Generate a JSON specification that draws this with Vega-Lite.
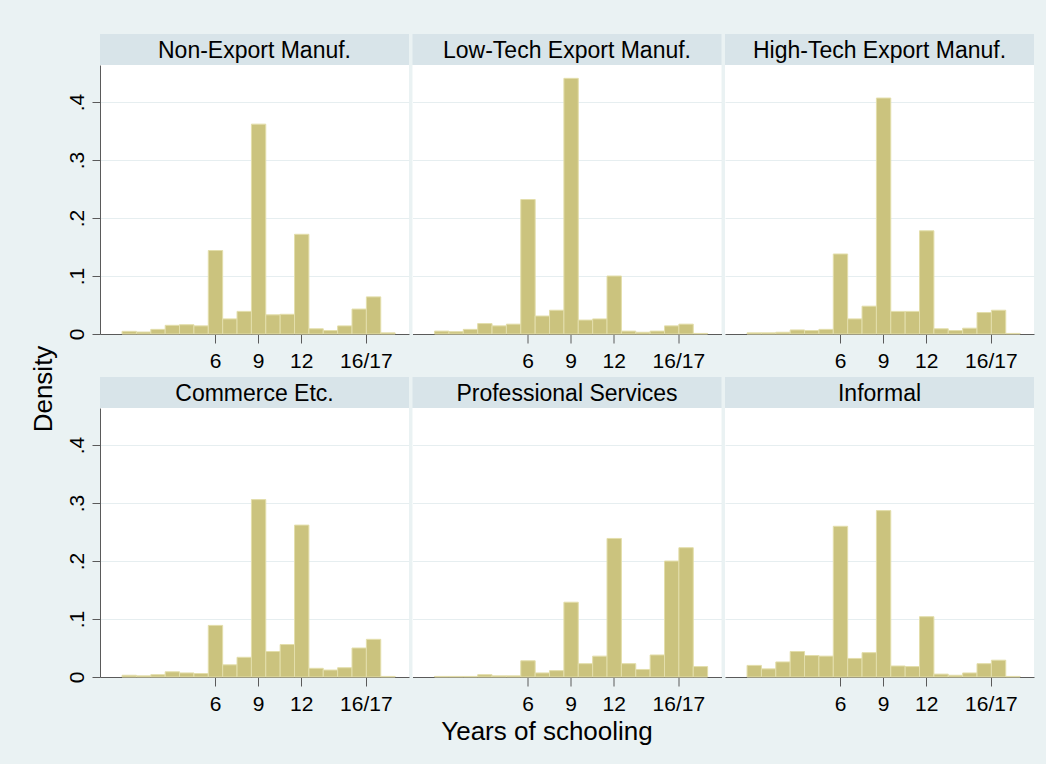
{
  "$schema": "https://vega.github.io/schema/vega-lite/v6.json",
  "background": "#EAF2F3",
  "padding": {"left": 31, "top": 34, "right": 12, "bottom": 20},
  "title": {"text": "Density", "orient": "left", "anchor": "middle", "fontSize": 26, "fontWeight": "normal", "color": "black", "offset": 9},
  "datasets": {
    "panels": [
      {"sector": "Non-Export Manuf."},
      {"sector": "Low-Tech Export Manuf."},
      {"sector": "High-Tech Export Manuf."},
      {"sector": "Commerce Etc."},
      {"sector": "Professional Services"},
      {"sector": "Informal"}
    ],
    "hist": [
      {"sector": "Non-Export Manuf.", "lo": -0.5, "hi": 0.5, "density": 0.0046},
      {"sector": "Non-Export Manuf.", "lo": 0.5, "hi": 1.5, "density": 0.0034},
      {"sector": "Non-Export Manuf.", "lo": 1.5, "hi": 2.5, "density": 0.008},
      {"sector": "Non-Export Manuf.", "lo": 2.5, "hi": 3.5, "density": 0.015},
      {"sector": "Non-Export Manuf.", "lo": 3.5, "hi": 4.5, "density": 0.016},
      {"sector": "Non-Export Manuf.", "lo": 4.5, "hi": 5.5, "density": 0.014},
      {"sector": "Non-Export Manuf.", "lo": 5.5, "hi": 6.5, "density": 0.144},
      {"sector": "Non-Export Manuf.", "lo": 6.5, "hi": 7.5, "density": 0.026},
      {"sector": "Non-Export Manuf.", "lo": 7.5, "hi": 8.5, "density": 0.039},
      {"sector": "Non-Export Manuf.", "lo": 8.5, "hi": 9.5, "density": 0.362},
      {"sector": "Non-Export Manuf.", "lo": 9.5, "hi": 10.5, "density": 0.033},
      {"sector": "Non-Export Manuf.", "lo": 10.5, "hi": 11.5, "density": 0.034},
      {"sector": "Non-Export Manuf.", "lo": 11.5, "hi": 12.5, "density": 0.172},
      {"sector": "Non-Export Manuf.", "lo": 12.5, "hi": 13.5, "density": 0.009},
      {"sector": "Non-Export Manuf.", "lo": 13.5, "hi": 14.5, "density": 0.006},
      {"sector": "Non-Export Manuf.", "lo": 14.5, "hi": 15.5, "density": 0.014},
      {"sector": "Non-Export Manuf.", "lo": 15.5, "hi": 16.5, "density": 0.043},
      {"sector": "Non-Export Manuf.", "lo": 16.5, "hi": 17.5, "density": 0.064},
      {"sector": "Non-Export Manuf.", "lo": 17.5, "hi": 18.5, "density": 0.002},

      {"sector": "Low-Tech Export Manuf.", "lo": -0.5, "hi": 0.5, "density": 0.005},
      {"sector": "Low-Tech Export Manuf.", "lo": 0.5, "hi": 1.5, "density": 0.004},
      {"sector": "Low-Tech Export Manuf.", "lo": 1.5, "hi": 2.5, "density": 0.008},
      {"sector": "Low-Tech Export Manuf.", "lo": 2.5, "hi": 3.5, "density": 0.018},
      {"sector": "Low-Tech Export Manuf.", "lo": 3.5, "hi": 4.5, "density": 0.014},
      {"sector": "Low-Tech Export Manuf.", "lo": 4.5, "hi": 5.5, "density": 0.017},
      {"sector": "Low-Tech Export Manuf.", "lo": 5.5, "hi": 6.5, "density": 0.232},
      {"sector": "Low-Tech Export Manuf.", "lo": 6.5, "hi": 7.5, "density": 0.031},
      {"sector": "Low-Tech Export Manuf.", "lo": 7.5, "hi": 8.5, "density": 0.041},
      {"sector": "Low-Tech Export Manuf.", "lo": 8.5, "hi": 9.5, "density": 0.441},
      {"sector": "Low-Tech Export Manuf.", "lo": 9.5, "hi": 10.5, "density": 0.024},
      {"sector": "Low-Tech Export Manuf.", "lo": 10.5, "hi": 11.5, "density": 0.026},
      {"sector": "Low-Tech Export Manuf.", "lo": 11.5, "hi": 12.5, "density": 0.100},
      {"sector": "Low-Tech Export Manuf.", "lo": 12.5, "hi": 13.5, "density": 0.005},
      {"sector": "Low-Tech Export Manuf.", "lo": 13.5, "hi": 14.5, "density": 0.003},
      {"sector": "Low-Tech Export Manuf.", "lo": 14.5, "hi": 15.5, "density": 0.005},
      {"sector": "Low-Tech Export Manuf.", "lo": 15.5, "hi": 16.5, "density": 0.014},
      {"sector": "Low-Tech Export Manuf.", "lo": 16.5, "hi": 17.5, "density": 0.017},
      {"sector": "Low-Tech Export Manuf.", "lo": 17.5, "hi": 18.5, "density": 0.001},

      {"sector": "High-Tech Export Manuf.", "lo": -0.5, "hi": 0.5, "density": 0.002},
      {"sector": "High-Tech Export Manuf.", "lo": 0.5, "hi": 1.5, "density": 0.002},
      {"sector": "High-Tech Export Manuf.", "lo": 1.5, "hi": 2.5, "density": 0.003},
      {"sector": "High-Tech Export Manuf.", "lo": 2.5, "hi": 3.5, "density": 0.007},
      {"sector": "High-Tech Export Manuf.", "lo": 3.5, "hi": 4.5, "density": 0.006},
      {"sector": "High-Tech Export Manuf.", "lo": 4.5, "hi": 5.5, "density": 0.008},
      {"sector": "High-Tech Export Manuf.", "lo": 5.5, "hi": 6.5, "density": 0.138},
      {"sector": "High-Tech Export Manuf.", "lo": 6.5, "hi": 7.5, "density": 0.026},
      {"sector": "High-Tech Export Manuf.", "lo": 7.5, "hi": 8.5, "density": 0.048},
      {"sector": "High-Tech Export Manuf.", "lo": 8.5, "hi": 9.5, "density": 0.407},
      {"sector": "High-Tech Export Manuf.", "lo": 9.5, "hi": 10.5, "density": 0.039},
      {"sector": "High-Tech Export Manuf.", "lo": 10.5, "hi": 11.5, "density": 0.039},
      {"sector": "High-Tech Export Manuf.", "lo": 11.5, "hi": 12.5, "density": 0.178},
      {"sector": "High-Tech Export Manuf.", "lo": 12.5, "hi": 13.5, "density": 0.009},
      {"sector": "High-Tech Export Manuf.", "lo": 13.5, "hi": 14.5, "density": 0.006},
      {"sector": "High-Tech Export Manuf.", "lo": 14.5, "hi": 15.5, "density": 0.010},
      {"sector": "High-Tech Export Manuf.", "lo": 15.5, "hi": 16.5, "density": 0.037},
      {"sector": "High-Tech Export Manuf.", "lo": 16.5, "hi": 17.5, "density": 0.041},
      {"sector": "High-Tech Export Manuf.", "lo": 17.5, "hi": 18.5, "density": 0.001},

      {"sector": "Commerce Etc.", "lo": -0.5, "hi": 0.5, "density": 0.003},
      {"sector": "Commerce Etc.", "lo": 0.5, "hi": 1.5, "density": 0.002},
      {"sector": "Commerce Etc.", "lo": 1.5, "hi": 2.5, "density": 0.004},
      {"sector": "Commerce Etc.", "lo": 2.5, "hi": 3.5, "density": 0.009},
      {"sector": "Commerce Etc.", "lo": 3.5, "hi": 4.5, "density": 0.007},
      {"sector": "Commerce Etc.", "lo": 4.5, "hi": 5.5, "density": 0.006},
      {"sector": "Commerce Etc.", "lo": 5.5, "hi": 6.5, "density": 0.089},
      {"sector": "Commerce Etc.", "lo": 6.5, "hi": 7.5, "density": 0.021},
      {"sector": "Commerce Etc.", "lo": 7.5, "hi": 8.5, "density": 0.034},
      {"sector": "Commerce Etc.", "lo": 8.5, "hi": 9.5, "density": 0.306},
      {"sector": "Commerce Etc.", "lo": 9.5, "hi": 10.5, "density": 0.044},
      {"sector": "Commerce Etc.", "lo": 10.5, "hi": 11.5, "density": 0.056},
      {"sector": "Commerce Etc.", "lo": 11.5, "hi": 12.5, "density": 0.262},
      {"sector": "Commerce Etc.", "lo": 12.5, "hi": 13.5, "density": 0.015},
      {"sector": "Commerce Etc.", "lo": 13.5, "hi": 14.5, "density": 0.012},
      {"sector": "Commerce Etc.", "lo": 14.5, "hi": 15.5, "density": 0.016},
      {"sector": "Commerce Etc.", "lo": 15.5, "hi": 16.5, "density": 0.050},
      {"sector": "Commerce Etc.", "lo": 16.5, "hi": 17.5, "density": 0.065},
      {"sector": "Commerce Etc.", "lo": 17.5, "hi": 18.5, "density": 0.001},

      {"sector": "Professional Services", "lo": -0.5, "hi": 0.5, "density": 0.001},
      {"sector": "Professional Services", "lo": 0.5, "hi": 1.5, "density": 0.001},
      {"sector": "Professional Services", "lo": 1.5, "hi": 2.5, "density": 0.001},
      {"sector": "Professional Services", "lo": 2.5, "hi": 3.5, "density": 0.004},
      {"sector": "Professional Services", "lo": 3.5, "hi": 4.5, "density": 0.002},
      {"sector": "Professional Services", "lo": 4.5, "hi": 5.5, "density": 0.002},
      {"sector": "Professional Services", "lo": 5.5, "hi": 6.5, "density": 0.028},
      {"sector": "Professional Services", "lo": 6.5, "hi": 7.5, "density": 0.007},
      {"sector": "Professional Services", "lo": 7.5, "hi": 8.5, "density": 0.011},
      {"sector": "Professional Services", "lo": 8.5, "hi": 9.5, "density": 0.129},
      {"sector": "Professional Services", "lo": 9.5, "hi": 10.5, "density": 0.023},
      {"sector": "Professional Services", "lo": 10.5, "hi": 11.5, "density": 0.036},
      {"sector": "Professional Services", "lo": 11.5, "hi": 12.5, "density": 0.239},
      {"sector": "Professional Services", "lo": 12.5, "hi": 13.5, "density": 0.023},
      {"sector": "Professional Services", "lo": 13.5, "hi": 14.5, "density": 0.013},
      {"sector": "Professional Services", "lo": 14.5, "hi": 15.5, "density": 0.038},
      {"sector": "Professional Services", "lo": 15.5, "hi": 16.5, "density": 0.200},
      {"sector": "Professional Services", "lo": 16.5, "hi": 17.5, "density": 0.223},
      {"sector": "Professional Services", "lo": 17.5, "hi": 18.5, "density": 0.018},

      {"sector": "Informal", "lo": -0.5, "hi": 0.5, "density": 0.020},
      {"sector": "Informal", "lo": 0.5, "hi": 1.5, "density": 0.014},
      {"sector": "Informal", "lo": 1.5, "hi": 2.5, "density": 0.026},
      {"sector": "Informal", "lo": 2.5, "hi": 3.5, "density": 0.044},
      {"sector": "Informal", "lo": 3.5, "hi": 4.5, "density": 0.037},
      {"sector": "Informal", "lo": 4.5, "hi": 5.5, "density": 0.036},
      {"sector": "Informal", "lo": 5.5, "hi": 6.5, "density": 0.260},
      {"sector": "Informal", "lo": 6.5, "hi": 7.5, "density": 0.032},
      {"sector": "Informal", "lo": 7.5, "hi": 8.5, "density": 0.042},
      {"sector": "Informal", "lo": 8.5, "hi": 9.5, "density": 0.287},
      {"sector": "Informal", "lo": 9.5, "hi": 10.5, "density": 0.019},
      {"sector": "Informal", "lo": 10.5, "hi": 11.5, "density": 0.018},
      {"sector": "Informal", "lo": 11.5, "hi": 12.5, "density": 0.104},
      {"sector": "Informal", "lo": 12.5, "hi": 13.5, "density": 0.005},
      {"sector": "Informal", "lo": 13.5, "hi": 14.5, "density": 0.003},
      {"sector": "Informal", "lo": 14.5, "hi": 15.5, "density": 0.007},
      {"sector": "Informal", "lo": 15.5, "hi": 16.5, "density": 0.023},
      {"sector": "Informal", "lo": 16.5, "hi": 17.5, "density": 0.029},
      {"sector": "Informal", "lo": 17.5, "hi": 18.5, "density": 0.001}
    ]
  },
  "spacing": 6,
  "vconcat": [
    {
      "spacing": 3.5,
      "hconcat": [
        {
          "spacing": 0, "bounds": "flush",
          "vconcat": [
            {
              "width": 309, "height": 31, "view": {"fill": "#D8E4E9", "stroke": null},
              "data": {"name": "panels"},
              "transform": [{"filter": "datum.sector === 'Non-Export Manuf.'"}],
              "mark": {"type": "text", "fontSize": 23, "color": "black", "baseline": "middle", "dy": 1},
              "encoding": {"text": {"field": "sector"}}
            },
            {
              "width": 309, "height": 269, "view": {"fill": "white", "stroke": null},
              "data": {"name": "hist"},
              "transform": [{"filter": "datum.sector === 'Non-Export Manuf.'"}],
              "mark": {"type": "bar", "fill": "#CBC37E", "stroke": "#E3DEAB", "strokeWidth": 1, "binSpacing": 0},
              "encoding": {
                "x": {"field": "lo", "type": "quantitative", "bin": "binned", "scale": {"domain": [-2, 19.5], "nice": false, "zero": false},
                      "axis": {"values": [6, 9, 12, 16.5], "labelExpr": "datum.value > 16 ? '16/17' : datum.label", "title": null}},
                "x2": {"field": "hi"},
                "y": {"field": "density", "type": "quantitative", "scale": {"domain": [0, 0.464], "nice": false},
                      "axis": {"values": [0, 0.1, 0.2, 0.3, 0.4], "format": ".1f", "labelExpr": "datum.value == 0 ? '0' : slice(datum.label, 1)", "title": null}}
              }
            }
          ]
        },
        {
          "spacing": 0, "bounds": "flush",
          "vconcat": [
            {
              "width": 309, "height": 31, "view": {"fill": "#D8E4E9", "stroke": null},
              "data": {"name": "panels"},
              "transform": [{"filter": "datum.sector === 'Low-Tech Export Manuf.'"}],
              "mark": {"type": "text", "fontSize": 23, "color": "black", "baseline": "middle", "dy": 1},
              "encoding": {"text": {"field": "sector"}}
            },
            {
              "width": 309, "height": 269, "view": {"fill": "white", "stroke": null},
              "data": {"name": "hist"},
              "transform": [{"filter": "datum.sector === 'Low-Tech Export Manuf.'"}],
              "mark": {"type": "bar", "fill": "#CBC37E", "stroke": "#E3DEAB", "strokeWidth": 1, "binSpacing": 0},
              "encoding": {
                "x": {"field": "lo", "type": "quantitative", "bin": "binned", "scale": {"domain": [-2, 19.5], "nice": false, "zero": false},
                      "axis": {"values": [6, 9, 12, 16.5], "labelExpr": "datum.value > 16 ? '16/17' : datum.label", "title": null}},
                "x2": {"field": "hi"},
                "y": {"field": "density", "type": "quantitative", "scale": {"domain": [0, 0.464], "nice": false},
                      "axis": {"values": [0.1, 0.2, 0.3, 0.4], "labels": false, "ticks": false, "domain": false, "title": null}}
              }
            }
          ]
        },
        {
          "spacing": 0, "bounds": "flush",
          "vconcat": [
            {
              "width": 309, "height": 31, "view": {"fill": "#D8E4E9", "stroke": null},
              "data": {"name": "panels"},
              "transform": [{"filter": "datum.sector === 'High-Tech Export Manuf.'"}],
              "mark": {"type": "text", "fontSize": 23, "color": "black", "baseline": "middle", "dy": 1},
              "encoding": {"text": {"field": "sector"}}
            },
            {
              "width": 309, "height": 269, "view": {"fill": "white", "stroke": null},
              "data": {"name": "hist"},
              "transform": [{"filter": "datum.sector === 'High-Tech Export Manuf.'"}],
              "mark": {"type": "bar", "fill": "#CBC37E", "stroke": "#E3DEAB", "strokeWidth": 1, "binSpacing": 0},
              "encoding": {
                "x": {"field": "lo", "type": "quantitative", "bin": "binned", "scale": {"domain": [-2, 19.5], "nice": false, "zero": false},
                      "axis": {"values": [6, 9, 12, 16.5], "labelExpr": "datum.value > 16 ? '16/17' : datum.label", "title": null}},
                "x2": {"field": "hi"},
                "y": {"field": "density", "type": "quantitative", "scale": {"domain": [0, 0.464], "nice": false},
                      "axis": {"values": [0.1, 0.2, 0.3, 0.4], "labels": false, "ticks": false, "domain": false, "title": null}}
              }
            }
          ]
        }
      ]
    },
    {
      "spacing": 3.5,
      "hconcat": [
        {
          "spacing": 0, "bounds": "flush",
          "vconcat": [
            {
              "width": 309, "height": 31, "view": {"fill": "#D8E4E9", "stroke": null},
              "data": {"name": "panels"},
              "transform": [{"filter": "datum.sector === 'Commerce Etc.'"}],
              "mark": {"type": "text", "fontSize": 23, "color": "black", "baseline": "middle", "dy": 1},
              "encoding": {"text": {"field": "sector"}}
            },
            {
              "width": 309, "height": 269, "view": {"fill": "white", "stroke": null},
              "data": {"name": "hist"},
              "transform": [{"filter": "datum.sector === 'Commerce Etc.'"}],
              "mark": {"type": "bar", "fill": "#CBC37E", "stroke": "#E3DEAB", "strokeWidth": 1, "binSpacing": 0},
              "encoding": {
                "x": {"field": "lo", "type": "quantitative", "bin": "binned", "scale": {"domain": [-2, 19.5], "nice": false, "zero": false},
                      "axis": {"values": [6, 9, 12, 16.5], "labelExpr": "datum.value > 16 ? '16/17' : datum.label", "title": null}},
                "x2": {"field": "hi"},
                "y": {"field": "density", "type": "quantitative", "scale": {"domain": [0, 0.464], "nice": false},
                      "axis": {"values": [0, 0.1, 0.2, 0.3, 0.4], "format": ".1f", "labelExpr": "datum.value == 0 ? '0' : slice(datum.label, 1)", "title": null}}
              }
            }
          ]
        },
        {
          "spacing": 0, "bounds": "flush",
          "vconcat": [
            {
              "width": 309, "height": 31, "view": {"fill": "#D8E4E9", "stroke": null},
              "data": {"name": "panels"},
              "transform": [{"filter": "datum.sector === 'Professional Services'"}],
              "mark": {"type": "text", "fontSize": 23, "color": "black", "baseline": "middle", "dy": 1},
              "encoding": {"text": {"field": "sector"}}
            },
            {
              "width": 309, "height": 269, "view": {"fill": "white", "stroke": null},
              "data": {"name": "hist"},
              "transform": [{"filter": "datum.sector === 'Professional Services'"}],
              "mark": {"type": "bar", "fill": "#CBC37E", "stroke": "#E3DEAB", "strokeWidth": 1, "binSpacing": 0},
              "encoding": {
                "x": {"field": "lo", "type": "quantitative", "bin": "binned", "scale": {"domain": [-2, 19.5], "nice": false, "zero": false},
                      "axis": {"values": [6, 9, 12, 16.5], "labelExpr": "datum.value > 16 ? '16/17' : datum.label", "title": "Years of schooling", "titleX": 134}},
                "x2": {"field": "hi"},
                "y": {"field": "density", "type": "quantitative", "scale": {"domain": [0, 0.464], "nice": false},
                      "axis": {"values": [0.1, 0.2, 0.3, 0.4], "labels": false, "ticks": false, "domain": false, "title": null}}
              }
            }
          ]
        },
        {
          "spacing": 0, "bounds": "flush",
          "vconcat": [
            {
              "width": 309, "height": 31, "view": {"fill": "#D8E4E9", "stroke": null},
              "data": {"name": "panels"},
              "transform": [{"filter": "datum.sector === 'Informal'"}],
              "mark": {"type": "text", "fontSize": 23, "color": "black", "baseline": "middle", "dy": 1},
              "encoding": {"text": {"field": "sector"}}
            },
            {
              "width": 309, "height": 269, "view": {"fill": "white", "stroke": null},
              "data": {"name": "hist"},
              "transform": [{"filter": "datum.sector === 'Informal'"}],
              "mark": {"type": "bar", "fill": "#CBC37E", "stroke": "#E3DEAB", "strokeWidth": 1, "binSpacing": 0},
              "encoding": {
                "x": {"field": "lo", "type": "quantitative", "bin": "binned", "scale": {"domain": [-2, 19.5], "nice": false, "zero": false},
                      "axis": {"values": [6, 9, 12, 16.5], "labelExpr": "datum.value > 16 ? '16/17' : datum.label", "title": null}},
                "x2": {"field": "hi"},
                "y": {"field": "density", "type": "quantitative", "scale": {"domain": [0, 0.464], "nice": false},
                      "axis": {"values": [0.1, 0.2, 0.3, 0.4], "labels": false, "ticks": false, "domain": false, "title": null}}
              }
            }
          ]
        }
      ]
    }
  ],
  "config": {
    "font": "Liberation Sans",
    "view": {"stroke": null},
    "axis": {
      "labelColor": "black", "titleColor": "black", "labelFontSize": 21, "titleFontSize": 26, "titleFontWeight": "normal",
      "domainColor": "#5A5A5A", "tickColor": "#5A5A5A", "gridColor": "#E6EEF0", "gridWidth": 1.2
    },
    "axisX": {"grid": false, "tickSize": 9, "labelPadding": 7, "titlePadding": 4, "zindex": 1, "labelFlush": false, "labelOverlap": false},
    "axisY": {"grid": true, "tickSize": 8, "labelPadding": 5, "labelAngle": -90, "labelAlign": "center", "labelBaseline": "bottom"}
  }
}
